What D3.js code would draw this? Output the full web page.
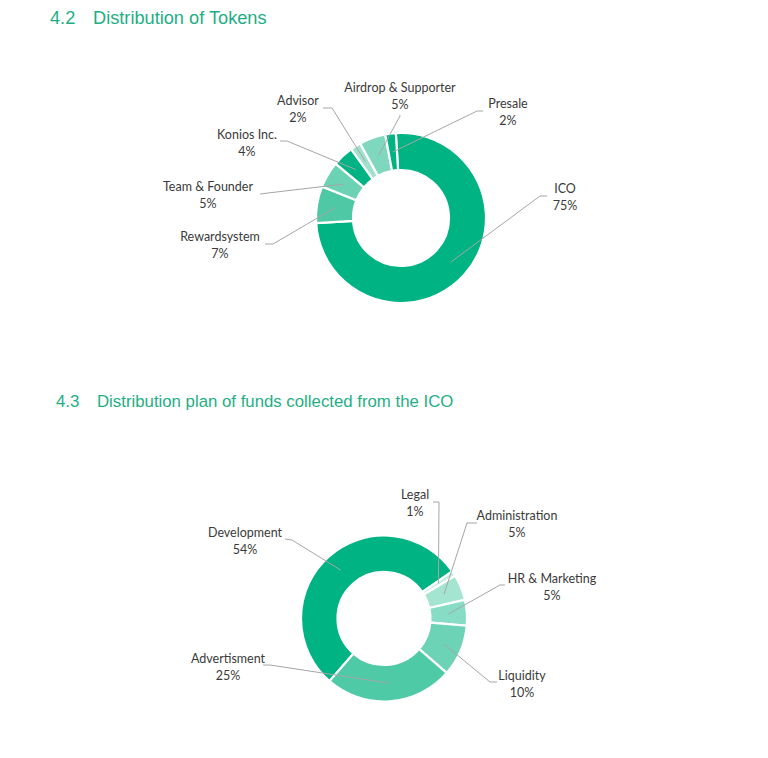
<!DOCTYPE html>
<html>
<head>
<meta charset="utf-8">
<script src="https://cdn.jsdelivr.net/npm/d3@7"></script>
<style>
  html, body { margin: 0; padding: 0; background: #fff; }
  svg { display: block; }
</style>
</head>
<body>
<svg id="chart" width="768" height="758"></svg>
<script>
// ---------- data ----------
const tokenCategories = ["ICO", "Rewardsystem", "Team & Founder", "Konios Inc.", "Advisor", "Airdrop & Supporter", "Presale"];
const tokenValues = [75, 7, 5, 4, 2, 5, 2];
const fundCategories = ["Development", "Legal", "Administration", "HR & Marketing", "Liquidity", "Advertisment"];
const fundValues = [54, 1, 5, 5, 10, 25];
const titles = [["4.2", "Distribution of Tokens"], ["4.3", "Distribution plan of funds collected from the ICO"]];

// ---------- styles / layout ----------
const tokenColors = ["#00b383", "#4fc9a5", "#6cd2b4", "#00b383", "#9fe1cd", "#7fd8be", "#00b383"];
const fundColors  = ["#00b383", "#c2ede0", "#a4e5d2", "#86dcc4", "#6cd3b6", "#4fcaa7"];
const titleColor = "#1fae84";
const textColor = "#3a3a3a";
const lineColor = "#a6a6a6";

// label layout: [labelX, labelY(first line), lineStartX, lineStartY, elbowX, elbowY]
const tokenLabelLayout = [
  [565, 193, 547, 196, 540, 196],
  [220, 241, 265, 244, 273, 244],
  [208, 191, 260, 194, 268, 193],
  [247, 139, 280, 141, 287, 141],
  [298, 105, 323, 108, 332, 108],
  [400, 92, 400, 115, 400, 116],
  [508, 108, 483, 111, 477, 111]
];
const fundLabelLayout = [
  [245, 537, 285, 539, 292, 540],
  [415, 499, 433, 502, 439, 502],
  [517, 520, 477, 523, 467, 523],
  [552, 583, 505, 585, 500, 585],
  [522, 680, 497, 682, 490, 682],
  [228, 663, 263, 665, 270, 665]
];

const svg = d3.select("#chart");
const deg = Math.PI / 180;

// titles
const titlePos = [[50, 93, 24, 18.2], [56, 97, 407, 16.8]];
titles.forEach((t, i) => {
  const [nx, tx, y, fs] = titlePos[i];
  svg.append("text").attr("x", nx).attr("y", y).text(t[0])
    .attr("font-family", "'Liberation Sans', Arial, sans-serif").attr("font-size", fs).attr("fill", titleColor);
  svg.append("text").attr("x", tx).attr("y", y).text(t[1])
    .attr("font-family", "'Liberation Sans', Arial, sans-serif").attr("font-size", fs).attr("fill", titleColor);
});

function donut(cats, vals, colors, layout, cx, cy, rIn, rOut, startDeg) {
  const g = svg.append("g").attr("transform", `translate(${cx},${cy})`);
  const pie = d3.pie().sort(null).value(d => d.v)
    .startAngle(startDeg * deg).endAngle(startDeg * deg + 2 * Math.PI);
  const data = cats.map((c, i) => ({ c, v: vals[i], i }));
  const arcs = pie(data);
  const arc = d3.arc().innerRadius(rIn).outerRadius(rOut);
  const mid = d3.arc().innerRadius((rIn + rOut) / 2).outerRadius((rIn + rOut) / 2);

  g.selectAll("path.slice").data(arcs).join("path")
    .attr("class", "slice")
    .attr("d", arc)
    .attr("fill", d => colors[d.data.i])
    .attr("stroke", "#fff")
    .attr("stroke-width", 2.2)
    .attr("stroke-linejoin", "miter");

  // leader lines
  arcs.forEach(d => {
    const L = layout[d.data.i];
    const [ex, ey] = mid.centroid(d);
    const pts = [[L[2], L[3]], [L[4], L[5]], [ex + cx, ey + cy]];
    svg.append("path")
      .attr("d", d3.line()(pts))
      .attr("fill", "none")
      .attr("stroke", lineColor)
      .attr("stroke-width", 1);
  });

  // labels
  arcs.forEach(d => {
    const L = layout[d.data.i];
    const t = svg.append("text")
      .attr("x", L[0]).attr("y", L[1])
      .attr("text-anchor", "middle")
      .attr("font-family", "Lato, 'Open Sans', sans-serif")
      .attr("font-size", 12.5)
      .attr("fill", textColor);
    t.append("tspan").attr("x", L[0]).attr("dy", 0).text(d.data.c);
    t.append("tspan").attr("x", L[0]).attr("dy", 16.5).text(d.data.v + "%");
  });
}

donut(tokenCategories, tokenValues, tokenColors, tokenLabelLayout, 401, 218, 48, 85, -3.5);
donut(fundCategories, fundValues, fundColors, fundLabelLayout, 384, 618.5, 46.5, 83, 221);
</script>
</body>
</html>
